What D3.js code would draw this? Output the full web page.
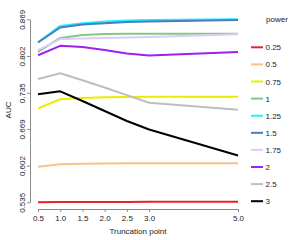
<!DOCTYPE html>
<html>
<head>
<meta charset="utf-8">
<script src="https://cdn.jsdelivr.net/npm/d3@7/dist/d3.min.js"></script>
<style>
  body { margin: 0; background: #fff; }
  svg { display: block; font-family: "Liberation Sans", Arial, sans-serif; }
</style>
</head>
<body>
<svg id="chart" width="300" height="240"></svg>
<script>
// truncation points (x) and AUC per power level
const truncation = [0.5, 1.0, 1.5, 2.0, 2.5, 3.0, 5.0];
const powers = ['0.25', '0.5', '0.75', '1', '1.25', '1.5', '1.75', '2', '2.5', '3'];
const auc025 = [0.535, 0.5355, 0.5356, 0.5357, 0.5357, 0.5358, 0.5359];
const auc05  = [0.600, 0.6043, 0.6054, 0.6060, 0.6062, 0.6062, 0.6062];
const auc075 = [0.7065, 0.723, 0.7253, 0.7266, 0.7272, 0.7275, 0.7275];
const auc1   = [0.8096, 0.835, 0.8403, 0.842, 0.8425, 0.8425, 0.8425];
const auc125 = [0.827, 0.857, 0.862, 0.865, 0.867, 0.8677, 0.869];
const auc15  = [0.8266, 0.854, 0.8595, 0.862, 0.864, 0.865, 0.8677];
const auc175 = [0.8129, 0.833, 0.834, 0.835, 0.8357, 0.8366, 0.8416];
const auc2   = [0.8034, 0.8206, 0.8183, 0.8128, 0.8065, 0.8028, 0.8095];
const auc25  = [0.760, 0.7704, 0.7579, 0.7445, 0.7307, 0.7166, 0.7039];
const auc3   = [0.7321, 0.7376, 0.7199, 0.7016, 0.6834, 0.6678, 0.6204];
const series = [auc025, auc05, auc075, auc1, auc125, auc15, auc175, auc2, auc25, auc3];
const colors = ['#e6222a', '#fdc086', '#ecec00', '#80c980', '#1ef0ff', '#4a7cbf', '#dccbff', '#a020f0', '#bebebe', '#000000'];
const yTicks = [0.535, 0.602, 0.669, 0.735, 0.802, 0.869];
const xTicks = [0.5, 1.0, 1.5, 2.0, 2.5, 3.0, 5.0];

const svg = d3.select('#chart');

const x = d3.scaleLinear().domain([0.5, 5.0]).range([38, 238]);
const y = d3.scaleLinear().domain([0.535, 0.869]).range([202.3, 19.3]);

// y axis
const yAxis = svg.append('g')
    .attr('transform', 'translate(30,0)')
    .call(d3.axisLeft(y).tickValues(yTicks).tickSize(3).tickSizeOuter(0).tickFormat(d3.format('.3f')));
yAxis.selectAll('path, line').attr('stroke', '#8c8c8c');
yAxis.selectAll('text')
    .attr('transform', 'rotate(-90)')
    .attr('x', 0).attr('y', -5).attr('dy', 0)
    .attr('text-anchor', 'middle')
    .attr('font-size', 8).attr('fill', '#222');

// x axis
const xAxis = svg.append('g')
    .attr('transform', 'translate(0,209)')
    .call(d3.axisBottom(x).tickValues(xTicks).tickSize(3).tickSizeOuter(0).tickFormat(d3.format('.1f')));
xAxis.selectAll('path, line').attr('stroke', '#8c8c8c');
xAxis.selectAll('text')
    .attr('y', 6).attr('dy', '0.71em')
    .attr('font-size', 8).attr('fill', '#222');
svg.selectAll('.domain').attr('fill', 'none');

// axis titles
svg.append('text')
    .attr('x', 138).attr('y', 233.5)
    .attr('text-anchor', 'middle')
    .attr('font-size', 8).attr('fill', '#222')
    .text('Truncation point');
svg.append('text')
    .attr('transform', 'translate(11,110) rotate(-90)')
    .attr('text-anchor', 'middle')
    .attr('font-size', 8).attr('fill', '#222')
    .text('AUC');

// lines
const line = d3.line()
    .x((d, i) => x(truncation[i]))
    .y(d => y(d));

svg.append('g').selectAll('path')
    .data(series)
    .join('path')
    .attr('fill', 'none')
    .attr('stroke', (d, i) => colors[i])
    .attr('stroke-width', 2)
    .attr('stroke-linejoin', 'round')
    .attr('d', line);

// legend
const legend = svg.append('g');
legend.append('text')
    .attr('x', 266).attr('y', 21.5)
    .attr('font-size', 8).attr('fill', '#222')
    .text('power');
const item = legend.selectAll('g.item')
    .data(powers)
    .join('g')
    .attr('class', 'item')
    .attr('transform', (d, i) => `translate(0,${47.3 + i * 17.1})`);
item.append('line')
    .attr('x1', 251).attr('x2', 263)
    .attr('stroke', (d, i) => colors[i])
    .attr('stroke-width', 2);
item.append('text')
    .attr('x', 265.5).attr('y', 3)
    .attr('font-size', 8).attr('fill', '#222')
    .text(d => d);
</script>
</body>
</html>
